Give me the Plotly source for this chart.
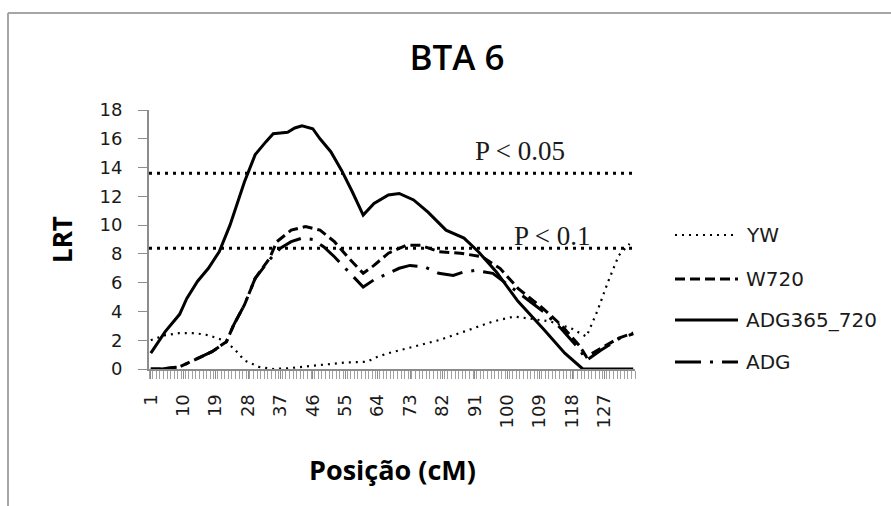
import plotly.graph_objects as go

# Marker positions (cM) along BTA 6 and the tick labels shown every 9 cM
positions = list(range(1, 136))
tick_positions = list(range(1, 136, 9))
tick_labels = [str(p) for p in tick_positions]

# Likelihood-ratio test profiles
yw_pos = [1, 5, 9, 13, 17, 21, 24, 27, 31, 35, 39, 44, 49, 55, 61, 64, 67, 74, 81, 88,
          96, 102, 107, 112, 118, 122, 125, 128, 131, 134]
yw_lrt = [2.0, 2.35, 2.5, 2.5, 2.35, 2.0, 1.45, 0.6, 0.15, 0.0, 0.05, 0.15, 0.3, 0.45, 0.5,
          0.85, 1.1, 1.55, 2.0, 2.6, 3.3, 3.65, 3.5, 3.3, 2.8, 2.25, 4.0, 6.05, 7.9, 8.7]

w720_pos = [1, 4, 9, 13, 18, 22, 24, 27, 30, 34, 36, 40, 44, 48, 52, 56, 60, 63, 67, 72,
            76, 81, 87, 93, 98, 103, 110, 115, 120, 122, 126, 131, 135]
w720_lrt = [0.0, 0.0, 0.15, 0.6, 1.2, 1.9, 3.05, 4.45, 6.3, 7.7, 8.85, 9.65, 9.9, 9.65, 8.85,
            7.7, 6.65, 7.2, 8.05, 8.6, 8.6, 8.15, 8.05, 7.8, 7.0, 5.6, 4.2, 3.05, 1.65, 0.85,
            1.45, 2.15, 2.5]

adg365_pos = [1, 5, 9, 11, 14, 17, 20, 23, 27, 30, 33, 35, 37, 39, 41, 43, 46, 48, 51, 54,
              57, 60, 63, 67, 70, 74, 78, 83, 88, 92, 97, 103, 110, 116, 121, 135]
adg365_lrt = [1.1, 2.6, 3.8, 4.9, 6.1, 7.0, 8.15, 10.0, 13.0, 14.9, 15.8, 16.35, 16.4, 16.45,
              16.75, 16.9, 16.7, 16.0, 15.1, 13.8, 12.3, 10.7, 11.5, 12.1, 12.2, 11.75, 10.9,
              9.65, 9.1, 8.15, 6.75, 4.7, 2.8, 1.1, 0.0, 0.0]

adg_pos = [1, 4, 9, 13, 18, 22, 24, 27, 30, 34, 37, 40, 43, 46, 49, 52, 55, 60, 63, 67, 70,
           73, 77, 81, 85, 88, 91, 96, 103, 110, 115, 120, 122, 126, 131, 135]
adg_lrt = [0.0, 0.0, 0.15, 0.6, 1.2, 1.9, 3.05, 4.45, 6.3, 7.6, 8.4, 8.85, 9.1, 9.0, 8.5, 7.8,
           7.0, 5.7, 6.2, 6.65, 7.0, 7.2, 7.1, 6.65, 6.5, 6.75, 6.85, 6.65, 5.35, 4.0, 2.8, 1.4,
           0.6, 1.3, 2.1, 2.45]

# Significance thresholds
threshold_values = [13.6, 8.4]
threshold_labels = ["P < 0.05", "P < 0.1"]

series_names = ["YW", "W720", "ADG365_720", "ADG"]
series_x = [yw_pos, w720_pos, adg365_pos, adg_pos]
series_y = [yw_lrt, w720_lrt, adg365_lrt, adg_lrt]
series_dash = ["2px,5px", "10px,5px", "solid", "26px,9px,3px,9px"]
series_width = [2.2, 3, 3, 3]

fig = go.Figure()
for name, xs, ys, dash, w in zip(series_names, series_x, series_y, series_dash, series_width):
    fig.add_trace(go.Scatter(x=xs, y=ys, mode="lines", name=name,
                             line=dict(color="black", width=w, dash=dash),
                             showlegend=False))

shapes = []
# outer chart frame (top and left edges are inside the page)
frame_left, frame_top = -0.2901, 1.3745
shapes.append(dict(type="line", xref="paper", yref="paper", x0=frame_left, x1=3.0,
                   y0=frame_top, y1=frame_top, line=dict(color="#a6a6a6", width=2),
                   layer="below"))
shapes.append(dict(type="line", xref="paper", yref="paper", x0=frame_left, x1=frame_left,
                   y0=-1.0, y1=frame_top, line=dict(color="#a6a6a6", width=2),
                   layer="below"))
# threshold lines
for v in threshold_values:
    shapes.append(dict(type="line", xref="paper", yref="y", x0=0, x1=1, y0=v, y1=v,
                       line=dict(color="black", width=3, dash="3px,5px")))

annotations = []
thr_label_x = [(473 - 149) / 486, (512 - 149) / 486]
for v, lab, lx in zip(threshold_values, threshold_labels, thr_label_x):
    annotations.append(dict(text=lab, xref="paper", yref="y", x=lx, y=v, xanchor="left",
                            yanchor="bottom", yshift=5 if v > 10 else -5, showarrow=False,
                            font=dict(family="Liberation Serif", size=27, color="#1a1a1a")))

# legend drawn beside the plot
legend_rows = [235, 279, 320, 362]
for name, dash, w, row in zip(series_names, series_dash, series_width, legend_rows):
    yp = (369 - row) / 259
    shapes.append(dict(type="line", xref="paper", yref="paper", x0=(675 - 149) / 486,
                       x1=(738 - 149) / 486, y0=yp, y1=yp,
                       line=dict(color="black", width=w, dash=dash)))
    annotations.append(dict(text=name, xref="paper", yref="paper", x=(744 - 149) / 486, y=yp,
                            xanchor="left", yanchor="middle", showarrow=False,
                            font=dict(family="DejaVu Sans", size=20, color="#1a1a1a")))

# axis titles
annotations.append(dict(text="<b>LRT</b>", xref="paper", yref="paper", x=(62 - 149) / 486,
                        y=(369 - 240) / 259, textangle=-90, showarrow=False,
                        xanchor="center", yanchor="middle",
                        font=dict(family="Open Sans", size=26, color="black")))
annotations.append(dict(text="<b>Posição (cM)</b>", xref="paper", yref="paper",
                        x=(392 - 149) / 486, y=(369 - 470) / 259, showarrow=False,
                        xanchor="center", yanchor="middle",
                        font=dict(family="Open Sans", size=27, color="black")))

fig.update_layout(
    width=891, height=506,
    margin=dict(l=149, r=256, t=110, b=137),
    paper_bgcolor="white", plot_bgcolor="white",
    title=dict(text="BTA 6", x=457 / 891, xref="container", xanchor="center",
               y=1 - 58 / 506, yref="container", yanchor="middle",
               font=dict(family="Open Sans", size=35, color="black", weight=600)),
    shapes=shapes, annotations=annotations,
    showlegend=False,
)
fig.update_xaxes(range=[0.5, 135.5], showgrid=False, zeroline=False,
                 showline=True, linecolor="#8c8c8c", linewidth=2,
                 tickmode="array", tickvals=tick_positions, ticktext=tick_labels,
                 tickangle=-90, ticks="outside", ticklen=8, tickcolor="#8c8c8c",
                 ticklabelstandoff=8,
                 tickfont=dict(family="DejaVu Sans", size=18, color="#1a1a1a"),
                 minor=dict(ticks="outside", ticklen=8, tickcolor="#a0a0a0",
                            tickmode="linear", tick0=0.5, dtick=1, showgrid=False))
fig.update_yaxes(range=[0, 18], dtick=2, showgrid=False, zeroline=False,
                 showline=True, linecolor="#8c8c8c", linewidth=2,
                 ticks="outside", ticklen=9, tickcolor="#8c8c8c",
                 ticklabelstandoff=12,
                 tickfont=dict(family="DejaVu Sans", size=18, color="#1a1a1a"))

fig.write_html("out.html")
